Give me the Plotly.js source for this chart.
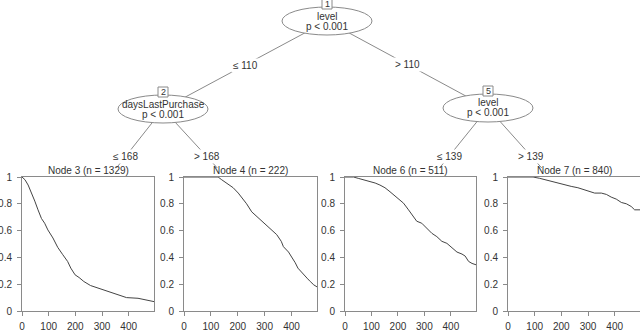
<!DOCTYPE html>
<html>
<head>
<meta charset="utf-8">
<script src="https://cdn.plot.ly/plotly-3.0.1.min.js"></script>
<style>
html, body { margin: 0; padding: 0; background: #fff; }
#tree { width: 640px; height: 331px; }
</style>
</head>
<body>
<div id="tree"></div>
<script>
// inner nodes of the tree
var innerIds = [1, 2, 5];
var innerVars = ['level', 'daysLastPurchase', 'level'];
var innerP = ['p < 0.001', 'p < 0.001', 'p < 0.001'];
var splitLabels = ['\u2264 110', '> 110', '\u2264 168', '> 168', '\u2264 139', '> 139'];

// terminal nodes
var termIds = [3, 4, 6, 7];
var termN = [1329, 222, 511, 840];

// survival curves
var time3 = [0, 11, 23, 36, 48, 60, 73, 85, 97, 116, 134, 153, 171, 183, 199, 214, 232, 257, 288, 325, 362, 392, 435, 466, 485, 495];
var surv3 = [1, 0.98, 0.94, 0.88, 0.82, 0.755, 0.69, 0.655, 0.605, 0.545, 0.475, 0.42, 0.37, 0.32, 0.27, 0.25, 0.22, 0.19, 0.17, 0.145, 0.125, 0.10, 0.095, 0.08, 0.07, 0.07];

var time4 = [0, 127, 140, 158, 183, 202, 217, 233, 252, 271, 296, 320, 345, 362, 370, 389, 402, 414, 424, 439, 458, 470, 483, 495];
var surv4 = [1, 1, 0.98, 0.955, 0.92, 0.88, 0.84, 0.80, 0.74, 0.705, 0.66, 0.62, 0.57, 0.52, 0.48, 0.44, 0.40, 0.36, 0.32, 0.29, 0.245, 0.22, 0.195, 0.18];

var time6 = [0, 32, 50, 69, 95, 114, 132, 151, 170, 189, 202, 221, 240, 259, 271, 290, 309, 328, 347, 366, 385, 404, 423, 442, 454, 467, 480, 495];
var surv6 = [1, 1, 0.99, 0.98, 0.97, 0.955, 0.94, 0.92, 0.89, 0.86, 0.84, 0.805, 0.755, 0.705, 0.67, 0.655, 0.62, 0.58, 0.555, 0.52, 0.505, 0.47, 0.44, 0.425, 0.41, 0.37, 0.355, 0.345];

var time7 = [0, 94, 119, 137, 162, 187, 212, 237, 262, 287, 306, 325, 350, 369, 387, 406, 425, 444, 462, 475, 495];
var surv7 = [1, 1, 0.99, 0.98, 0.97, 0.955, 0.94, 0.93, 0.92, 0.905, 0.89, 0.88, 0.88, 0.87, 0.85, 0.835, 0.81, 0.80, 0.78, 0.755, 0.755];

var xTicks = [0, 100, 200, 300, 400];
var yTicks = [0, 0.2, 0.4, 0.6, 0.8, 1];

var W = 640, H = 331;
function px(x) { return x / W; }
function py(y) { return 1 - y / H; }

var font = 'Liberation Sans, Arial, Helvetica, sans-serif';
var grey = '#8a8a8a';
var ink = '#333';

// panel placement (pixels)
var panelLeft = [22, 184, 345, 508];
var panelRight = [154, 317, 476, 640];
var panelTop = 177, panelBottom = 311;
var panelCx = panelLeft.map(function (l, i) { return (l + panelRight[i]) / 2; });

var times = [time3, time4, time6, time7];
var survs = [surv3, surv4, surv6, surv7];

var data = [];
var layout = {
    width: W,
    height: H,
    margin: { l: 0, r: 0, t: 0, b: 0 },
    paper_bgcolor: '#fff',
    plot_bgcolor: '#fff',
    showlegend: false,
    font: { family: font, size: 10, color: ink },
    shapes: [],
    annotations: []
};

// text placed by pixel centre
function label(x, y, text, size, bg) {
    var a = {
        x: px(x), y: py(y), xref: 'paper', yref: 'paper',
        xanchor: 'center', yanchor: 'middle',
        text: text, showarrow: false,
        font: { size: size, color: ink }
    };
    if (bg) { a.bgcolor = '#fff'; a.borderpad = 1; }
    layout.annotations.push(a);
}

for (var i = 0; i < 4; i++) {
    var sfx = i === 0 ? '' : String(i + 1);
    data.push({
        x: times[i],
        y: survs[i],
        xaxis: 'x' + sfx,
        yaxis: 'y' + sfx,
        type: 'scatter',
        mode: 'lines',
        line: { color: '#444', width: 1 },
        hoverinfo: 'skip'
    });
    layout['xaxis' + sfx] = {
        domain: [px(panelLeft[i]), px(panelRight[i])],
        anchor: 'y' + sfx,
        range: [0, 495],
        tickvals: xTicks,
        ticks: 'outside', ticklen: 4, tickcolor: grey,
        ticklabelstandoff: 2,
        showline: true, mirror: true, linecolor: grey, linewidth: 1,
        showgrid: false, zeroline: false,
        tickfont: { size: 10, color: ink, family: font }
    };
    layout['yaxis' + sfx] = {
        domain: [py(panelBottom), py(panelTop)],
        anchor: 'x' + sfx,
        range: [0, 1],
        tickvals: yTicks,
        ticks: 'outside', ticklen: 4, tickcolor: grey,
        ticklabelstandoff: 3,
        showline: true, mirror: true, linecolor: grey, linewidth: 1,
        showgrid: false, zeroline: false,
        tickfont: { size: 10, color: ink, family: font }
    };
    label(panelCx[i], 170, 'Node ' + termIds[i] + ' (n = ' + termN[i] + ')', 10, false);
}

// inner node positions (pixels)
var innerX = [327, 163, 488];
var innerY = [21, 109, 108];
var rx = 45, ry = 14;
var kidTopY = 204;   // where edges to terminal panels aim
var cutY = 168;      // edges hidden below this

// edges: [from (x,y), to (x,y)]
var edges = [
    [innerX[0], innerY[0], innerX[1], innerY[1]],
    [innerX[0], innerY[0], innerX[2], innerY[2]],
    [innerX[1], innerY[1], panelCx[0], kidTopY],
    [innerX[1], innerY[1], panelCx[1], kidTopY],
    [innerX[2], innerY[2], panelCx[2], kidTopY],
    [innerX[2], innerY[2], panelCx[3], kidTopY]
];

edges.forEach(function (e, k) {
    var x1 = e[2], y1 = e[3];
    if (y1 > cutY) {
        var f = (cutY - e[1]) / (e[3] - e[1]);
        x1 = e[0] + (e[2] - e[0]) * f;
        y1 = cutY;
    }
    layout.shapes.push({
        type: 'line', xref: 'paper', yref: 'paper',
        x0: px(e[0]), y0: py(e[1]), x1: px(x1), y1: py(y1),
        line: { color: grey, width: 1 }
    });
    label((e[0] + e[2]) / 2, (e[1] + e[3]) / 2, splitLabels[k], 10, true);
});

for (var j = 0; j < innerIds.length; j++) {
    var cx = innerX[j], cy = innerY[j];
    layout.shapes.push({
        type: 'circle', xref: 'paper', yref: 'paper',
        x0: px(cx - rx), x1: px(cx + rx), y0: py(cy + ry), y1: py(cy - ry),
        fillcolor: '#fff', line: { color: grey, width: 1 }
    });
    var by = cy - ry - 3;
    layout.shapes.push({
        type: 'rect', xref: 'paper', yref: 'paper',
        x0: px(cx - 5), x1: px(cx + 5), y0: py(by + 5), y1: py(by - 5),
        fillcolor: '#fff', line: { color: grey, width: 1 }
    });
    label(cx, by, String(innerIds[j]), 9, false);
    label(cx, cy - 5, innerVars[j], 10, false);
    label(cx, cy + 5, innerP[j], 10, false);
}

Plotly.newPlot('tree', data, layout, { displayModeBar: false, staticPlot: true });
</script>
</body>
</html>
